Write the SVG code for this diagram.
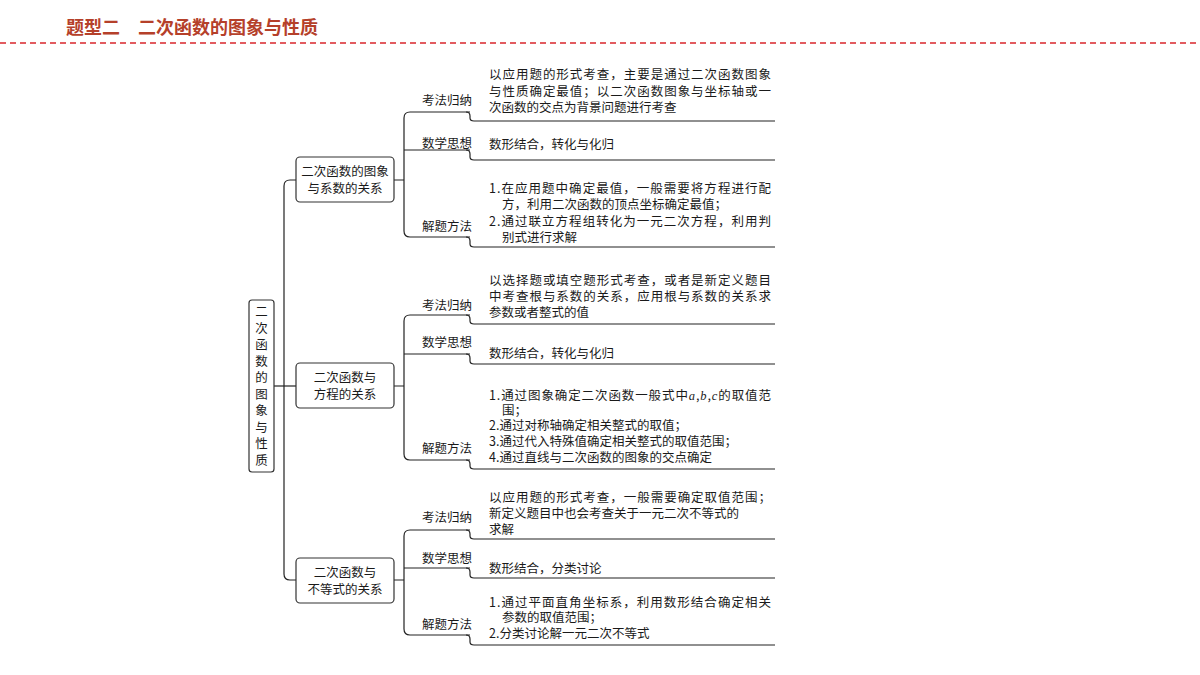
<svg xmlns="http://www.w3.org/2000/svg" width="1200" height="675" viewBox="0 0 1200 675">
<style>
text{font-family:"Noto Sans CJK SC","Liberation Serif",serif;font-size:12.5px;fill:#1a1a1a}
.t{font-size:18px;font-weight:bold;fill:#b5402a}
.box{fill:#fff;stroke:#333;stroke-width:1.2}
.ln{fill:none;stroke:#222;stroke-width:1.2}
.c{text-anchor:middle}
</style>
<rect width="1200" height="675" fill="#fff"/>
<text class="t" x="66" y="34">题型二　二次函数的图象与性质</text>
<line x1="0" y1="43" x2="1200" y2="43" stroke="#d9262c" stroke-width="1.5" stroke-dasharray="6,4"/>
<g id="connectors" class="ln">
<path d="M296,180 H290 Q284,180 284,186 L284,574 Q284,580 290,580 H296"/>
<path d="M274,386 H296"/>
<path d="M394,180 H404 M394,386 H404 M394,580 H404"/>
<path d="M470,112 H410 Q404,112 404,118 L404,231 Q404,237 410,237 H470 M404,150 H470"/>
<path d="M470,315 H410 Q404,315 404,321 L404,454 Q404,460 410,460 H470 M404,354 H470"/>
<path d="M470,530 H410 Q404,530 404,536 L404,629 Q404,635 410,635 H470 M404,568 H470"/>
<path d="M466,112 Q470,112 470,116 L470,118 Q470,121 474,121 H775"/>
<path d="M466,150 Q470,150 470,154 L470,157 Q470,160 474,160 H775"/>
<path d="M466,237 Q470,237 470,241 L470,244 Q470,247 474,247 H775"/>
<path d="M466,315 Q470,315 470,319 L470,321 Q470,324 474,324 H775"/>
<path d="M466,354 Q470,354 470,358 L470,361 Q470,364 474,364 H775"/>
<path d="M466,460 Q470,460 470,464 L470,466 Q470,469 474,469 H775"/>
<path d="M466,530 Q470,530 470,534 L470,536 Q470,539 474,539 H775"/>
<path d="M466,568 Q470,568 470,572 L470,575 Q470,578 474,578 H775"/>
<path d="M466,635 Q470,635 470,639 L470,642 Q470,645 474,645 H775"/>
</g>
<g id="root"><rect class="box" x="249" y="300" width="25" height="172" rx="3"/>
<text class="c" x="261.5" y="316">二</text><text class="c" x="261.5" y="332.5">次</text><text class="c" x="261.5" y="349">函</text><text class="c" x="261.5" y="365.5">数</text><text class="c" x="261.5" y="382">的</text><text class="c" x="261.5" y="398.5">图</text><text class="c" x="261.5" y="415">象</text><text class="c" x="261.5" y="431.5">与</text><text class="c" x="261.5" y="448">性</text><text class="c" x="261.5" y="464.5">质</text></g>
<g id="n1"><rect class="box" x="296" y="157" width="98" height="45" rx="4"/><text class="c" x="345" y="176">二次函数的图象</text><text class="c" x="345" y="193">与系数的关系</text></g>
<g id="n2"><rect class="box" x="296" y="363" width="98" height="45" rx="4"/><text class="c" x="345" y="382">二次函数与</text><text class="c" x="345" y="399">方程的关系</text></g>
<g id="n3"><rect class="box" x="296" y="558" width="98" height="45" rx="4"/><text class="c" x="345" y="577">二次函数与</text><text class="c" x="345" y="594">不等式的关系</text></g>
<g id="g1">
<text x="422" y="105">考法归纳</text><text x="422" y="148">数学思想</text><text x="422" y="231">解题方法</text>
<text x="489" y="79" textLength="282">以应用题的形式考查，主要是通过二次函数图象</text>
<text x="489" y="96" textLength="282">与性质确定最值；以二次函数图象与坐标轴或一</text>
<text x="489" y="112">次函数的交点为背景问题进行考查</text>
<text x="489" y="149">数形结合，转化与化归</text>
<text x="489" y="193" textLength="282">1.在应用题中确定最值，一般需要将方程进行配</text>
<text x="502" y="209">方，利用二次函数的顶点坐标确定最值；</text>
<text x="489" y="226" textLength="282">2.通过联立方程组转化为一元二次方程，利用判</text>
<text x="502" y="242">别式进行求解</text>
</g>
<g id="g2">
<text x="422" y="310">考法归纳</text><text x="422" y="347">数学思想</text><text x="422" y="453">解题方法</text>
<text x="489" y="285" textLength="282">以选择题或填空题形式考查，或者是新定义题目</text>
<text x="489" y="301" textLength="282">中考查根与系数的关系，应用根与系数的关系求</text>
<text x="489" y="317">参数或者整式的值</text>
<text x="489" y="358">数形结合，转化与化归</text>
<text x="489" y="400" textLength="282">1.通过图象确定二次函数一般式中<tspan font-family="Liberation Serif" font-style="italic">a</tspan>,<tspan font-family="Liberation Serif" font-style="italic">b</tspan>,<tspan font-family="Liberation Serif" font-style="italic">c</tspan>的取值范</text>
<text x="502" y="415">围；</text>
<text x="489" y="430">2.通过对称轴确定相关整式的取值；</text>
<text x="489" y="446">3.通过代入特殊值确定相关整式的取值范围；</text>
<text x="489" y="462">4.通过直线与二次函数的图象的交点确定</text>
</g>
<g id="g3">
<text x="422" y="522">考法归纳</text><text x="422" y="563">数学思想</text><text x="422" y="629">解题方法</text>
<text x="489" y="502" textLength="282">以应用题的形式考查，一般需要确定取值范围；</text>
<text x="489" y="518">新定义题目中也会考查关于一元二次不等式的</text>
<text x="489" y="534">求解</text>
<text x="489" y="573">数形结合，分类讨论</text>
<text x="489" y="607" textLength="282">1.通过平面直角坐标系，利用数形结合确定相关</text>
<text x="502" y="622">参数的取值范围；</text>
<text x="489" y="638">2.分类讨论解一元二次不等式</text>
</g>
</svg>
